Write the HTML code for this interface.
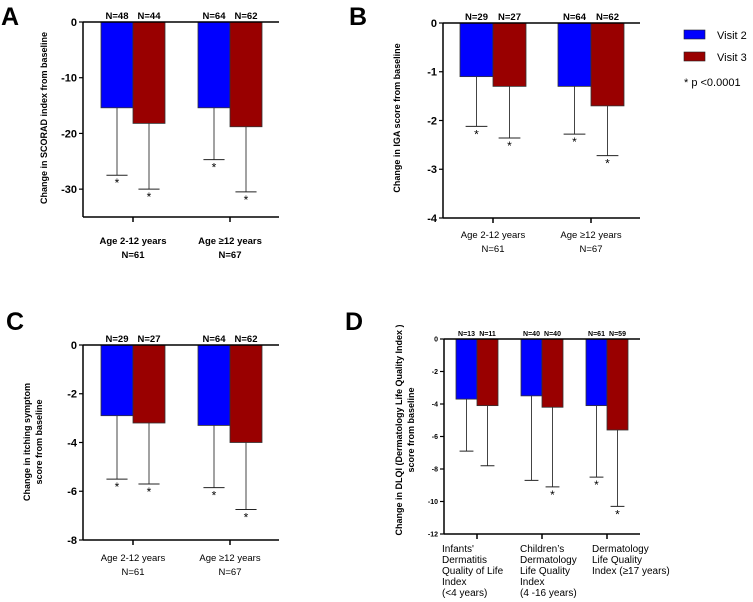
<!DOCTYPE html>
<html><head><meta charset="utf-8"><style>
body{margin:0;background:#fff;}
svg{display:block;font-family:"Liberation Sans",Arial,sans-serif;}
</style></head><body>
<svg id="fig" width="753" height="602" viewBox="0 0 753 602" xmlns="http://www.w3.org/2000/svg">
<text x="1" y="25" font-size="25" font-weight="bold">A</text>
<text x="349" y="25" font-size="25" font-weight="bold">B</text>
<text x="6" y="330" font-size="25" font-weight="bold">C</text>
<text x="345" y="330" font-size="25" font-weight="bold">D</text>
<g>
<rect x="684" y="30" width="21" height="9" fill="#0000ff" stroke="#222" stroke-width="0.6"/>
<text x="717" y="39" font-size="11">Visit 2</text>
<rect x="684" y="52" width="21" height="9" fill="#990000" stroke="#222" stroke-width="0.6"/>
<text x="717" y="61" font-size="11">Visit 3</text>
<text x="684" y="86" font-size="11">* p &lt;0.0001</text>
</g>
</svg>
<script>
// Panel A data
const catsA = [["Age 2-12 years","N=61"],["Age \u226512 years","N=67"]];
const v2A = [-15.4, -15.4];
const v3A = [-18.2, -18.8];
const e2A = [-27.5, -24.7];
const e3A = [-30.0, -30.5];
const n2A = ["N=48","N=64"];
const n3A = ["N=44","N=62"];
const sig2A = [true,true];
const sig3A = [true,true];
const ticksA = [0,-10,-20,-30];
const minA = -35;
// Panel B data
const catsB = [["Age 2-12 years","N=61"],["Age \u226512 years","N=67"]];
const v2B = [-1.1, -1.3];
const v3B = [-1.3, -1.7];
const e2B = [-2.12, -2.28];
const e3B = [-2.36, -2.72];
const n2B = ["N=29","N=64"];
const n3B = ["N=27","N=62"];
const sig2B = [true,true];
const sig3B = [true,true];
const ticksB = [0,-1,-2,-3,-4];
const minB = -4;
// Panel C data
const catsC = [["Age 2-12 years","N=61"],["Age \u226512 years","N=67"]];
const v2C = [-2.9, -3.3];
const v3C = [-3.2, -4.0];
const e2C = [-5.5, -5.85];
const e3C = [-5.7, -6.75];
const n2C = ["N=29","N=64"];
const n3C = ["N=27","N=62"];
const sig2C = [true,true];
const sig3C = [true,true];
const ticksC = [0,-2,-4,-6,-8];
const minC = -8;
// Panel D data
const catsD = [["Infants'","Dermatitis","Quality of Life","Index"," (<4 years)"],["Children\u2019s","Dermatology","Life Quality","Index","(4 -16 years)"],["Dermatology"," Life Quality"," Index (\u226517 years)"]];
const v2D = [-3.7, -3.5, -4.1];
const v3D = [-4.1, -4.2, -5.6];
const e2D = [-6.9, -8.7, -8.5];
const e3D = [-7.8, -9.1, -10.3];
const n2D = ["N=13","N=40","N=61"];
const n3D = ["N=11","N=40","N=59"];
const sig2D = [false,false,true];
const sig3D = [false,true,true];
const ticksD = [0,-2,-4,-6,-8,-10,-12];
const minD = -12;

const NS="http://www.w3.org/2000/svg";
const svg=document.getElementById('fig');
function mk(tag,attrs,parent,text){const e=document.createElementNS(NS,tag);for(const k in attrs)e.setAttribute(k,attrs[k]);if(text!==undefined)e.textContent=text;(parent||svg).appendChild(e);return e;}

function panel(p){
  const g=mk('g',{});
  
  
  const y=v=>p.y0+(v/p.min)*(p.yb-p.y0);
  const fs=p.fs;
  for(let i=0;i<p.v2.length;i++){
    const cx=p.cx0+i*p.step;
    const sets=[[p.v2,p.e2,p.n2,p.s2,'#0000ff',cx-p.bw,'visit2'],[p.v3,p.e3,p.n3,p.s3,'#990000',cx,'visit3']];
    sets.forEach(([vals,errs,ns,sg,col,x,nm])=>{
      const ey=y(errs[i]), xm=x+p.bw/2;
      const el=mk('line',{x1:xm,x2:xm,y1:y(vals[i]),y2:ey,stroke:'#444','stroke-width':1},g);
      
      
      const cap=mk('line',{x1:xm-p.bw*0.33,x2:xm+p.bw*0.33,y1:ey,y2:ey,stroke:'#222','stroke-width':1},g);
      
      
      const r=mk('rect',{x:x,y:p.y0,width:p.bw,height:y(vals[i])-p.y0,fill:col,stroke:'#333','stroke-width':0.8},g);
      
      
      const t=mk('text',{x:xm,y:p.y0-3,'font-size':p.nfs,'font-weight':'bold','text-anchor':'middle'},g,ns[i]);
      
      
      if(sg[i]){
        const s=mk('text',{x:xm,y:ey+12,'font-size':12,'text-anchor':'middle'},g,'*');
        
        
      }
    });
    const tk=mk('line',{x1:cx,x2:cx,y1:p.yb,y2:p.yb+5,stroke:'#000','stroke-width':1.5},g);
    
    
    p.cats[i].forEach((ln,j)=>{
      const lx=p.labelDx?cx+p.labelDx[i]:cx;
      const t=mk('text',{x:lx,y:p.ly+j*p.lh,'font-size':p.lfs,'font-weight':p.lbold?'bold':'normal','text-anchor':p.labelDx?'start':'middle','xml:space':'preserve'},g,ln);
      
      
    });
  }
  const ya=mk('line',{x1:p.ax,x2:p.ax,y1:p.y0,y2:p.yb,stroke:'#000','stroke-width':1.5},g);
  
  
  const xa=mk('line',{x1:p.ax,x2:p.xr,y1:p.yb,y2:p.yb,stroke:'#000','stroke-width':1.5},g);
  
  
  const zl=mk('line',{x1:p.ax,x2:p.xr,y1:p.y0,y2:p.y0,stroke:'#000','stroke-width':1.5},g);
  
  
  p.ticks.forEach(tv=>{
    const ty=y(tv);
    const l=mk('line',{x1:p.ax-4,x2:p.ax,y1:ty,y2:ty,stroke:'#000','stroke-width':1.2},g);
    
    
    const t=mk('text',{x:p.ax-6,y:ty+fs*0.36,'font-size':fs,'font-weight':'bold','text-anchor':'end'},g,String(tv));
    
    
  });
  p.title.forEach((ln,j)=>{
    const tx=p.tx+j*12;
    const t=mk('text',{x:tx,y:p.ty,'font-size':p.tfs,'font-weight':'bold','text-anchor':'middle',transform:'rotate(-90 '+tx+' '+p.ty+')'},g,ln);
    
    
  });
}

panel({id:'a',cats:catsA,v2:v2A,v3:v3A,e2:e2A,e3:e3A,n2:n2A,n3:n3A,s2:sig2A,s3:sig3A,ticks:ticksA,min:minA,
  ax:83,xr:279,y0:22,yb:217,cx0:133,step:97,bw:32,fs:11,nfs:9.5,lfs:9.5,lbold:true,ly:244,lh:14,
  title:['Change in SCORAD index from baseline'],tx:47,ty:118,tfs:9});
panel({id:'b',cats:catsB,v2:v2B,v3:v3B,e2:e2B,e3:e3B,n2:n2B,n3:n3B,s2:sig2B,s3:sig3B,ticks:ticksB,min:minB,
  ax:443,xr:640,y0:23,yb:218,cx0:493,step:98,bw:33,fs:11,nfs:9.5,lfs:9.5,lbold:false,ly:238,lh:14,
  title:['Change in IGA score from baseline'],tx:400,ty:118,tfs:9});
panel({id:'c',cats:catsC,v2:v2C,v3:v3C,e2:e2C,e3:e3C,n2:n2C,n3:n3C,s2:sig2C,s3:sig3C,ticks:ticksC,min:minC,
  ax:83,xr:279,y0:345,yb:540,cx0:133,step:97,bw:32,fs:11,nfs:9.5,lfs:9.5,lbold:false,ly:561,lh:14,
  title:['Change in itching symptom','score from baseline'],tx:30,ty:442,tfs:9});
panel({id:'d',cats:catsD,v2:v2D,v3:v3D,e2:e2D,e3:e3D,n2:n2D,n3:n3D,s2:sig2D,s3:sig3D,ticks:ticksD,min:minD,
  ax:444,xr:640,y0:339,yb:534,cx0:477,step:65,bw:21,fs:7,nfs:7,lfs:10,lbold:false,labelDx:[-35,-22,-15],ly:552,lh:11,
  title:['Change in DLQI (Dermatology Life Quality Index )','score from baseline'],tx:402,ty:430,tfs:9});
</script>
</body></html>
